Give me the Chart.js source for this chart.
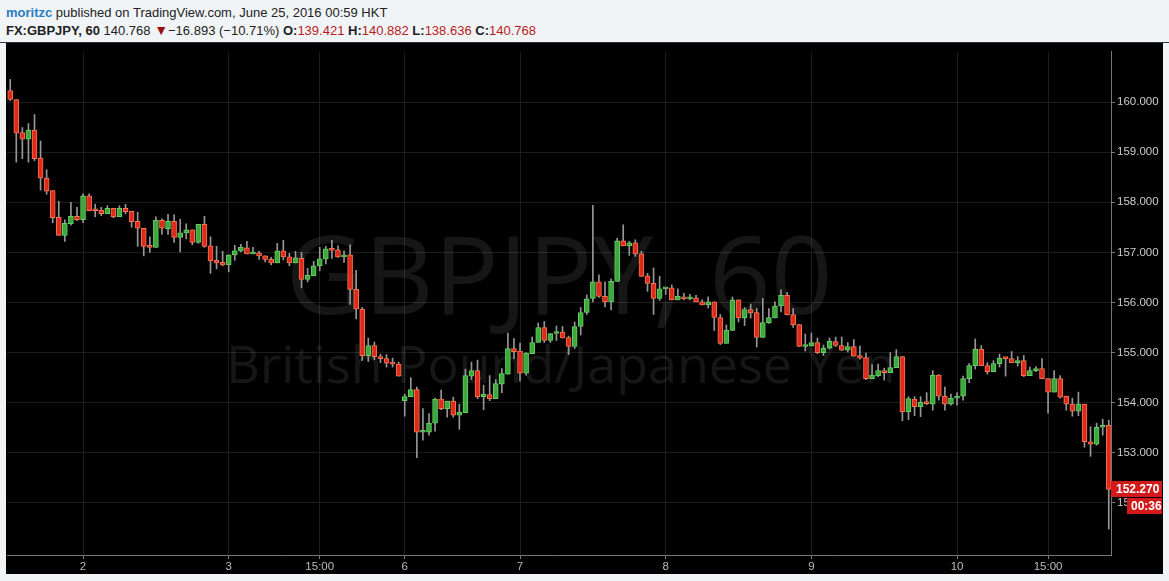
<!DOCTYPE html>
<html>
<head>
<meta charset="utf-8">
<script src="https://cdn.jsdelivr.net/npm/chart.js@4.4.0/dist/chart.umd.min.js"></script>
<style>
  body{margin:0;background:#f1f4f7;width:1169px;height:581px;overflow:hidden;font-family:"Liberation Sans",Arial,sans-serif;}
  #head{position:absolute;left:0;top:0;width:1169px;height:42px;border-bottom:1px solid #333;}
  .l1,.l2{position:absolute;left:6px;font-size:13px;color:#222;white-space:nowrap;line-height:16px}
  .l1{top:5px}
  .l2{top:22px}
  .user{color:#2b7bc0;font-weight:bold}
  .r{color:#b71c1c}
  .dn{color:#9b1010;font-size:14px}
  #wrap{position:absolute;left:6px;top:43px;width:1157px;height:531px;background:#000}
</style>
</head>
<body>
<div id="head">
  <div class="l1"><span class="user">moritzc</span> published on TradingView.com, June 25, 2016 00:59 HKT</div>
  <div class="l2"><b>FX:GBPJPY, 60</b> 140.768 <span class="dn">&#9660;</span>&minus;16.893 (&minus;10.71%) <b>O:</b><span class="r">139.421</span> <b>H:</b><span class="r">140.882</span> <b>L:</b><span class="r">138.636</span> <b>C:</b><span class="r">140.768</span></div>
</div>
<div id="wrap"><canvas id="c" width="1157" height="531"></canvas></div>
<script>
// hourly candles, GBPJPY 60
const opens = [160.23,160.05,159.39,159.26,159.44,158.88,158.48,158.23,157.70,157.34,157.57,157.72,157.65,158.13,157.84,157.84,157.77,157.88,157.71,157.88,
157.82,157.62,157.48,157.12,157.10,157.64,157.47,157.62,157.30,157.39,157.45,157.20,157.56,157.13,156.84,156.80,156.75,156.95,157.03,157.09,
156.97,156.99,156.93,156.86,156.79,157.03,156.91,156.79,156.88,156.46,156.53,156.73,156.87,157.07,157.05,156.91,156.95,156.26,155.87,154.94,
155.14,154.92,154.88,154.79,154.77,154.04,154.12,154.26,153.41,153.41,153.59,154.07,153.88,154.03,153.75,153.80,154.53,154.64,154.12,154.16,
154.08,154.37,154.57,155.08,155.03,154.59,154.98,155.20,155.50,155.24,155.38,155.41,155.30,155.12,155.52,155.80,156.08,156.41,156.12,156.01,
156.42,157.23,157.13,157.19,156.97,156.53,156.38,156.08,156.27,156.29,156.05,156.11,156.07,156.09,156.01,155.95,156.01,155.70,155.18,155.44,
156.05,155.69,155.86,155.80,155.30,155.59,155.69,155.93,156.14,155.76,155.56,155.12,155.13,155.20,155.00,155.09,155.22,155.14,155.05,155.12,
154.94,154.90,154.48,154.54,154.64,154.60,154.70,154.92,153.82,154.07,153.92,154.01,153.97,154.55,154.13,153.97,154.09,154.13,154.48,154.74,
155.07,154.74,154.62,154.78,154.89,154.88,154.80,154.84,154.54,154.64,154.68,154.48,154.21,154.48,154.13,153.97,153.83,153.97,153.22,153.17,
153.51,153.55];
const highs = [160.45,160.05,159.49,159.57,159.75,159.22,158.65,158.23,158.02,157.65,158.00,157.90,158.17,158.17,157.96,157.90,157.93,157.88,157.93,157.96,
157.82,157.80,157.48,157.31,157.71,157.67,157.76,157.75,157.66,157.57,157.45,157.56,157.72,157.31,157.12,157.02,156.95,157.14,157.16,157.22,
157.10,157.02,156.93,156.90,157.18,157.24,156.98,157.02,157.00,156.68,156.82,157.10,157.12,157.24,157.13,157.03,157.15,156.64,155.90,155.29,
155.21,154.97,154.96,154.89,154.81,154.17,154.50,154.31,153.88,153.78,154.09,154.25,154.03,154.11,153.97,154.67,154.81,154.85,154.35,154.54,
154.46,154.68,155.39,155.28,155.19,155.00,155.31,155.59,155.62,155.38,155.53,155.52,155.33,155.61,155.90,156.15,157.94,156.55,156.41,156.47,
157.28,157.55,157.22,157.25,157.02,156.58,156.69,156.52,156.29,156.35,156.27,156.18,156.16,156.14,156.05,156.11,156.01,155.76,155.55,156.11,
156.05,155.90,155.97,155.88,156.08,155.88,156.01,156.25,156.20,155.88,155.56,155.37,155.39,155.29,155.15,155.29,155.31,155.31,155.20,155.26,
155.13,154.99,154.76,154.77,154.69,155.00,155.06,154.92,154.12,154.12,154.12,154.20,154.64,154.56,154.31,154.17,154.20,154.53,154.78,155.27,
155.14,154.80,154.84,154.97,154.89,155.02,154.92,154.94,154.71,154.72,154.88,154.48,154.64,154.54,154.13,154.09,154.21,153.97,153.52,153.59,
153.67,153.65];
const lows = [160.03,158.80,158.87,158.80,158.83,158.24,158.16,157.59,157.34,157.22,157.54,157.63,157.59,157.83,157.71,157.73,157.77,157.69,157.71,157.77,
157.50,157.12,156.93,157.00,157.10,157.36,157.36,157.20,157.01,157.27,157.15,157.18,157.10,156.58,156.67,156.73,156.61,156.84,157.01,156.97,
156.97,156.86,156.81,156.75,156.79,156.85,156.73,156.79,156.29,156.41,156.53,156.63,156.77,156.88,156.90,156.80,155.96,155.67,154.84,154.82,
154.86,154.80,154.71,154.71,154.53,153.73,154.12,152.90,153.25,153.35,153.43,153.86,153.71,153.71,153.47,153.80,154.46,154.08,153.86,154.04,
154.08,154.20,154.57,154.88,154.43,154.55,154.98,155.20,155.20,155.20,155.24,155.29,154.96,155.08,155.35,155.76,156.01,156.10,155.91,155.85,
156.42,157.13,156.94,156.92,156.52,156.22,155.76,156.04,156.16,156.05,156.05,156.05,156.05,156.01,155.95,155.89,155.44,155.16,155.18,155.44,
155.61,155.54,155.69,155.11,155.30,155.58,155.69,155.81,155.75,155.50,155.12,155.03,155.13,154.98,154.94,155.07,155.12,155.04,155.01,154.93,
154.87,154.46,154.48,154.52,154.45,154.60,154.70,153.64,153.66,153.74,153.72,153.96,153.85,154.05,153.85,153.95,153.95,154.05,154.40,154.67,
154.74,154.57,154.62,154.71,154.53,154.80,154.73,154.52,154.54,154.62,154.48,153.79,154.21,154.09,153.85,153.73,153.74,153.11,152.93,153.15,
153.35,151.48];
const closes = [160.05,159.38,159.26,159.44,158.87,158.48,158.22,157.69,157.34,157.58,157.72,157.65,158.13,157.83,157.83,157.77,157.88,157.71,157.88,157.81,
157.61,157.48,157.12,157.10,157.64,157.48,157.62,157.30,157.39,157.45,157.20,157.56,157.12,156.83,156.79,156.75,156.95,157.03,157.10,156.97,
156.99,156.93,156.86,156.79,157.03,156.91,156.79,156.89,156.46,156.54,156.73,156.87,157.07,157.04,156.91,156.95,156.26,155.87,154.94,155.14,
154.92,154.88,154.79,154.77,154.53,154.12,154.26,153.41,153.42,153.59,154.07,153.88,154.03,153.75,153.81,154.54,154.64,154.12,154.17,154.08,
154.38,154.58,155.08,155.02,154.59,154.99,155.20,155.50,155.24,155.38,155.41,155.29,155.12,155.52,155.80,156.07,156.41,156.12,156.01,156.42,
157.23,157.13,157.19,156.97,156.52,156.38,156.08,156.27,156.29,156.05,156.12,156.07,156.09,156.01,155.95,156.01,155.70,155.18,155.45,156.05,
155.69,155.86,155.79,155.30,155.60,155.70,155.93,156.14,155.75,155.55,155.12,155.15,155.20,155.00,155.09,155.23,155.14,155.05,155.12,154.93,
154.89,154.48,154.55,154.64,154.60,154.70,154.92,153.82,154.08,153.92,154.01,153.98,154.55,154.13,153.97,154.09,154.13,154.48,154.74,155.07,
154.74,154.62,154.78,154.89,154.88,154.80,154.84,154.54,154.64,154.68,154.48,154.21,154.48,154.11,153.97,153.83,153.97,153.22,153.17,153.51,
153.55,152.27];

// time axis labels sit on these candle indices
const timeTickIdx = [12, 36, 51, 65, 84, 108, 132, 156, 171];
const timeTickText = ['2', '3', '15:00', '6', '7', '8', '9', '10', '15:00'];
const priceTicks = [152, 153, 154, 155, 156, 157, 158, 159, 160];

const symbolTitle = 'GBPJPY, 60';
const symbolName = 'British Pound/Japanese Yen';
const countdown = '00:36';

const UP = '#3ea83e', UP_EDGE = '#62d062';
const DN = '#dc2a1c', DN_EDGE = '#f6744f';
const AXIS_FONT = '"Liberation Sans", Arial, sans-serif';

const idx = opens.map((_, i) => i);
const isUp = idx.map(i => closes[i] >= opens[i]);

// background symbol text, like the TV watermark
const watermark = {
  id: 'watermark',
  beforeDatasetsDraw(chart){
    const {ctx, chartArea: a} = chart;
    const cx = (a.left + a.right) / 2;
    ctx.save();
    ctx.fillStyle = 'rgba(255,255,255,0.085)';
    ctx.textAlign = 'center';
    ctx.textBaseline = 'alphabetic';
    ctx.font = '108px "Open Sans"';
    ctx.fillText(symbolTitle, cx, a.top + 262);
    ctx.font = '52px "Open Sans"';
    ctx.fillText(symbolName, cx + 2, a.top + 331);
    ctx.restore();
  }
};

// last price + countdown tags on the price scale
const priceTag = {
  id: 'priceTag',
  afterDraw(chart){
    const {ctx, chartArea: a, scales: {y}} = chart;
    const last = closes[closes.length - 1];
    const py = Math.round(y.getPixelForValue(last));
    ctx.save();
    ctx.fillStyle = '#d21a1a';
    ctx.fillRect(a.right, py - 8, chart.width - a.right - 1, 16);
    ctx.fillRect(a.right + 16, py + 9, chart.width - a.right - 17, 16);
    ctx.fillStyle = '#fff';
    ctx.font = 'bold 12px ' + AXIS_FONT;
    ctx.textBaseline = 'middle';
    ctx.fillText(last.toFixed(3), a.right + 5, py + 0.5);
    ctx.fillText(countdown, a.right + 20, py + 17.5);
    ctx.restore();
  }
};

new Chart(document.getElementById('c'), {
  type: 'bar',
  data: {
    datasets: [
      {
        label: 'wick',
        data: idx.map(i => ({x: i, y: [lows[i], highs[i]]})),
        backgroundColor: '#969696',
        barThickness: 1,
        grouped: false,
        order: 2
      },
      {
        label: 'body',
        data: idx.map(i => ({x: i, y: [opens[i], closes[i]]})),
        backgroundColor: idx.map(i => isUp[i] ? UP : DN),
        borderColor: idx.map(i => isUp[i] ? UP_EDGE : DN_EDGE),
        borderWidth: 1,
        borderSkipped: false,
        barThickness: 5,
        minBarLength: 2,
        grouped: false,
        order: 1
      }
    ]
  },
  options: {
    responsive: false,
    animation: false,
    layout: {padding: {left: 1, right: 0, top: 0, bottom: 0}},
    plugins: {legend: {display: false}, tooltip: {enabled: false}},
    scales: {
      x: {
        type: 'linear',
        min: -0.53,
        max: 181.37,
        offset: false,
        grid: {offset: false, color: '#1c1c1c', tickColor: '#777', tickLength: 4},
        border: {color: '#777'},
        afterBuildTicks: s => { s.ticks = timeTickIdx.map(v => ({value: v})); },
        afterFit: s => { s.height = 19; },
        ticks: {
          color: '#bbb', font: {family: AXIS_FONT, size: 11.5}, padding: 1,
          maxRotation: 0, autoSkip: false,
          callback: v => timeTickText[timeTickIdx.indexOf(v)]
        }
      },
      y: {
        position: 'right',
        min: 150.96,
        max: 161.0,
        grid: {color: '#1c1c1c', tickColor: '#777', tickLength: 4},
        border: {color: '#777'},
        afterBuildTicks: s => { s.ticks = priceTicks.map(v => ({value: v})); },
        afterFit: s => { s.width = 52; },
        ticks: {
          color: '#ccc', font: {family: AXIS_FONT, size: 11.5}, padding: 2,
          callback: v => v.toFixed(3)
        }
      }
    }
  },
  plugins: [watermark, priceTag]
});
</script>
</body>
</html>
